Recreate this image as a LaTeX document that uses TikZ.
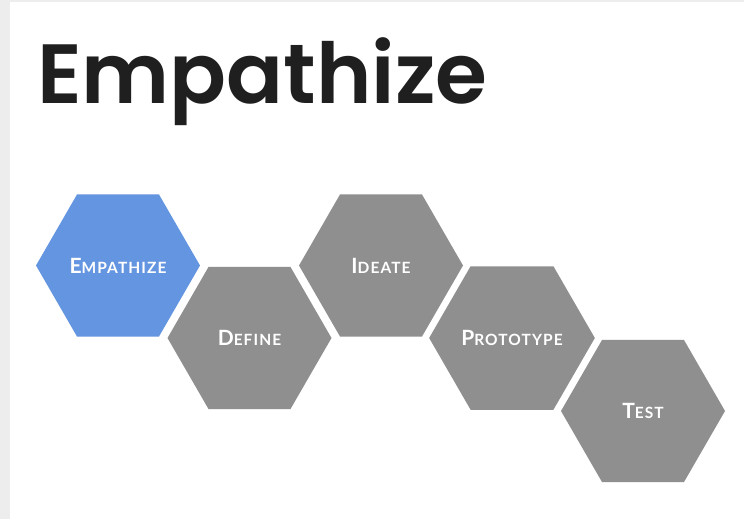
\documentclass[tikz,border=0pt]{standalone}
\usepackage{fontspec}
\usetikzlibrary{shapes.geometric}
\newfontfamily\titlefont{Poppins SemiBold}
\newfontfamily\hexfont{Lato}[LetterSpace=7]
\definecolor{empblue}{HTML}{6495E0}
\definecolor{stepgray}{HTML}{8F8F8F}
\definecolor{framegray}{HTML}{EDEDED}
\newcommand{\hexlabel}[2]{{\fontsize{21}{21}\selectfont #1}{\fontsize{15.5}{15.5}\selectfont #2}}

\begin{document}
\begin{tikzpicture}[x=1pt,y=-1pt,
		hexstep/.style={regular polygon, regular polygon sides=6, minimum size=164pt,
			inner sep=0pt, fill=stepgray, text=white, font=\hexfont\bfseries}]
			% frame
			\fill[framegray] (0,0) rectangle (744,519);
			\fill[white] (10,2) rectangle (744,519);
			\useasboundingbox (0,0) rectangle (744,519);

			\node[anchor=base west, inner sep=0pt, text=black!88, font=\titlefont\fontsize{84}{84}\selectfont] (title) at (37,103) {Empathize};

			\node[hexstep, fill=empblue] (1) at (118,265.5) {\hexlabel{E}{MPATHIZE}};
			\node[hexstep] (2) at (249.5,338) {\hexlabel{D}{EFINE}};
			\node[hexstep] (3) at (381,265.5) {\hexlabel{I}{DEATE}};
			\node[hexstep] (4) at (512,338) {\hexlabel{P}{ROTOTYPE}};
			\node[hexstep] (5) at (643,411) {\hexlabel{T}{EST}};
		\end{tikzpicture}
\end{document}
